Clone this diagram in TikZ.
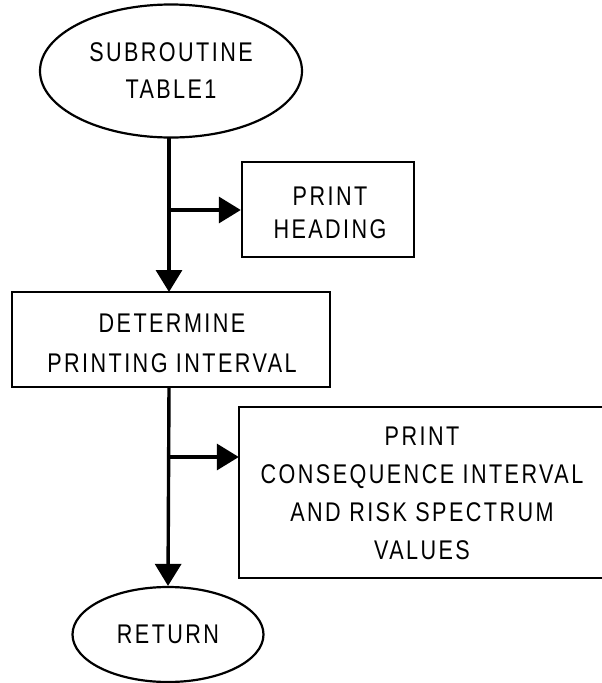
\documentclass[tikz,border=0pt]{standalone}
\usepackage{fontspec}
\setmainfont{Liberation Sans}[FakeStretch=0.8, LetterSpace=9]
\usetikzlibrary{shapes.geometric,arrows.meta}
\begin{document}
\begin{tikzpicture}[x=1pt,y=1pt,
  flow/.style={line width=3.4pt},
  arr/.style={flow,-{Triangle[length=22pt,width=26pt]}},
  term/.style={draw,ellipse,line width=2.2pt,inner sep=0pt,align=center},
  procbox/.style={draw,rectangle,line width=2.4pt,inner sep=0pt,align=center},
  txt/.style={align=center,inner sep=0pt}
]
\useasboundingbox (0,0) rectangle (602,-683);
\node[term,minimum width=262pt,minimum height=133pt,
  font=\fontsize{27}{37}\selectfont] (start) at (171,-71)
  {SUBROUTINE\\TABLE1};
\node[procbox,minimum width=172pt,minimum height=95pt] (head) at (328,-209.5) {};
\node[txt,font=\fontsize{27}{33}\selectfont] (headt) at (330,-212.5) {PRINT\\HEADING};
\node[procbox,minimum width=318pt,minimum height=95pt] (det) at (171,-339.5) {};
\node[txt,font=\fontsize{27}{40}\selectfont] (dett) at (172,-343) {DETERMINE\\PRINTING INTERVAL};
\node[minimum width=383pt,minimum height=171pt,inner sep=0pt] (cons) at (430.5,-492.5) {};
\draw[line width=2.4pt] (cons.north east) -- (cons.north west) -- (cons.south west) -- (cons.south east);
\node[txt,font=\fontsize{27}{38}\selectfont] (const) at (422,-493)
  {PRINT\\CONSEQUENCE INTERVAL\\AND RISK SPECTRUM\\VALUES};
\node[term,minimum width=191pt,minimum height=95pt,
  font=\fontsize{27}{37}\selectfont] (ret) at (168,-634.5) {RETURN};
\coordinate (b1) at (169,-210);
\coordinate (b2) at (169,-457);
\draw[arr] (169,-138) -- (169,-292);
\draw[arr] (b1) -- (head.west |- b1);
\draw[arr] (169,-387) -- (ret.north);
\draw[arr] (b2) -- (cons.west |- b2);
\end{tikzpicture}
\end{document}
